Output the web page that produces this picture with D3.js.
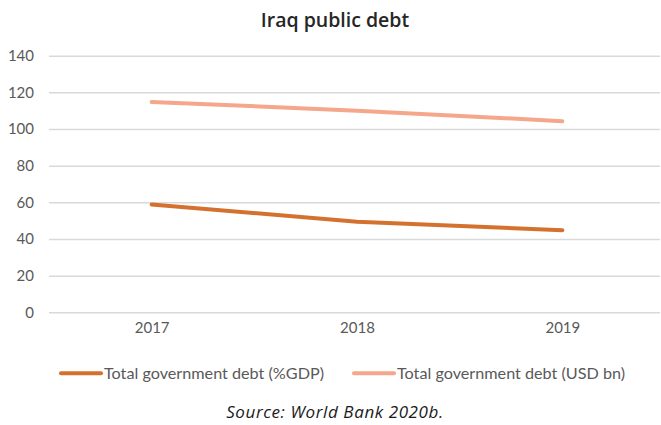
<!DOCTYPE html>
<html>
<head>
<meta charset="utf-8">
<script src="https://cdn.jsdelivr.net/npm/d3@7"></script>
<style>
  html, body { margin: 0; padding: 0; background: #fff; }
  svg { display: block; }
</style>
</head>
<body>
<svg id="chart" width="661" height="425"></svg>
<script>
// Iraq public debt, 2017–2019
const years = ["2017", "2018", "2019"];
const debtPctGdp = [58.8, 49.4, 44.8];
const debtUsdBn = [114.8, 110.0, 104.3];
const yTicks = [0, 20, 40, 60, 80, 100, 120, 140];
const seriesNames = ["Total government debt (%GDP)", "Total government debt (USD bn)"];
const seriesColors = ["#d5712e", "#f4a78a"];

const svg = d3.select("#chart");
const labelFont = "Lato, 'Open Sans', sans-serif";
const headFont = "'Open Sans', Lato, sans-serif";

const x = d3.scalePoint().domain(years).range([49, 665]).padding(0.5);
const y = d3.scaleLinear().domain([0, 140]).range([312.3, 55.7]);

// title
svg.append("text")
  .attr("x", 335).attr("y", 26.5)
  .attr("text-anchor", "middle")
  .style("font-family", headFont)
  .style("font-weight", 600)
  .style("font-size", "19.5px")
  .style("fill", "#262626")
  .text("Iraq public debt");

// horizontal gridlines + value labels
const yAxis = d3.axisLeft(y).tickValues(yTicks).tickSize(-611).tickPadding(15);
const gy = svg.append("g").attr("transform", "translate(49,0)").call(yAxis);
gy.select(".domain").remove();
gy.selectAll(".tick line").attr("stroke", "#d9d9d9").attr("stroke-width", 1.5);
gy.selectAll(".tick text")
  .style("font-family", labelFont)
  .style("font-size", "15px")
  .style("fill", "#595959");

// category labels
const xAxis = d3.axisBottom(x).tickSize(0).tickPadding(0);
const gx = svg.append("g").attr("transform", "translate(0,322)").call(xAxis);
gx.select(".domain").remove();
gx.selectAll(".tick text")
  .attr("dy", "0.71em")
  .style("font-family", labelFont)
  .style("font-size", "15px")
  .style("fill", "#595959");

// lines
const line = d3.line().x((d, i) => x(years[i])).y(d => y(d));
[debtUsdBn, debtPctGdp].forEach((vals, k) => {
  const color = k === 0 ? seriesColors[1] : seriesColors[0];
  svg.append("path")
    .datum(vals)
    .attr("d", line)
    .attr("fill", "none")
    .attr("stroke", color)
    .attr("stroke-width", 4)
    .attr("stroke-linecap", "round")
    .attr("stroke-linejoin", "round");
});

// legend
const legendX = [61, 354];
seriesNames.forEach((name, i) => {
  const g = svg.append("g").attr("transform", `translate(${legendX[i]},373.3)`);
  g.append("line")
    .attr("x1", 0).attr("x2", 40)
    .attr("stroke", seriesColors[i])
    .attr("stroke-width", 4)
    .attr("stroke-linecap", "round");
  g.append("text")
    .attr("x", 43).attr("dy", "0.35em")
    .style("font-family", labelFont)
    .style("font-size", "16.2px")
    .style("fill", "#595959")
    .text(name);
});

// source note
svg.append("text")
  .attr("x", 335).attr("y", 418)
  .attr("text-anchor", "middle")
  .style("font-family", headFont)
  .style("font-style", "italic")
  .style("font-size", "17px")
  .style("letter-spacing", "0.6px")
  .style("fill", "#1a1a1a")
  .text("Source: World Bank 2020b.");
</script>
</body>
</html>
